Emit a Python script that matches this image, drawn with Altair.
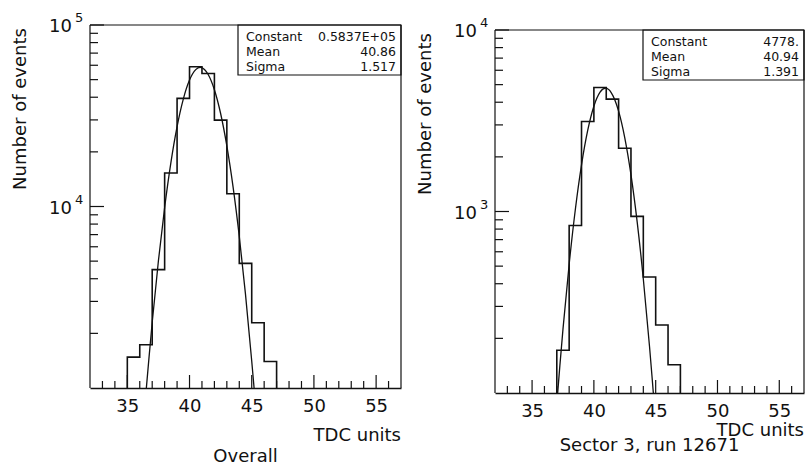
import altair as alt
import pandas as pd

# ---------------- data ----------------
X_DOMAIN = [32, 57]
X_LABELS = [35, 40, 45, 50, 55]
X_MINOR = [33, 34, 36, 37, 38, 39, 41, 42, 43, 44, 46, 47, 48, 49, 51, 52, 53, 54, 56]

STAT_NAMES = ["Constant", "Mean", "Sigma"]

# Left panel: "Overall"
L_EDGES = [35, 36, 37, 38, 39, 40, 41, 42, 43, 44, 45, 46, 47]
L_COUNTS = [1480, 1730, 4490, 15300, 39400, 58900, 54100, 29900, 11750, 4860, 2290, 1400]
L_Y_DOMAIN = [1000, 100000]
L_FIT_X = [36.53, 36.75, 37.0, 37.5, 38.0, 38.5, 39.0, 39.5, 40.0, 40.5, 40.86,
           41.2, 41.5, 42.0, 42.5, 43.0, 43.5, 44.0, 44.5, 45.0, 45.19]
L_FIT_Y = [1000, 1488, 2296, 5022, 9876, 17405, 27527, 39055, 49707, 56748, 58370,
           56922, 53397, 44011, 32541, 21580, 12841, 6853, 3282, 1408, 1000]
L_MAJOR = [10000, 100000]
L_EXPS = ["4", "5"]
L_MINOR = [2000, 3000, 4000, 5000, 6000, 7000, 8000, 9000,
           20000, 30000, 40000, 50000, 60000, 70000, 80000, 90000]
L_STATS = ["0.5837E+05", "40.86", "1.517"]
L_CAPTION = "Overall"

# Right panel: "Sector 3, run 12671"
R_EDGES = [37, 38, 39, 40, 41, 42, 43, 44, 45, 46, 47]
R_COUNTS = [172, 838, 3130, 4820, 4160, 2230, 940, 436, 237, 143]
R_Y_DOMAIN = [100, 10000]
R_FIT_X = [37.07, 37.25, 37.5, 38.0, 38.5, 39.0, 39.5, 40.0, 40.5, 40.94,
           41.4, 42.0, 42.5, 43.0, 43.5, 44.0, 44.5, 44.7, 44.81]
R_FIT_Y = [100, 142, 225, 512, 1026, 1807, 2796, 3803, 4545, 4778,
           4524, 3574, 2548, 1596, 879, 425, 181, 124, 100]
R_MAJOR = [1000, 10000]
R_EXPS = ["3", "4"]
R_MINOR = [200, 300, 400, 500, 600, 700, 800, 900,
           2000, 3000, 4000, 5000, 6000, 7000, 8000, 9000]
R_STATS = ["4778.", "40.94", "1.391"]
R_CAPTION = "Sector 3, run 12671"

Y_TITLE = "Number of events"
X_TITLE = "TDC units"

FONT = "DejaVu Sans"
INK = "#111111"


def one_row():
    return alt.Data(values=[{"k": 0}])


def panel(edges, counts, fit_x, fit_y, ydom, major, exps, minor, stats, caption,
          W, H, top, xtitle_dy, cap_dy, marker=False):
    xs = alt.Scale(domain=X_DOMAIN, nice=False, zero=False)
    ys = alt.Scale(type="log", domain=ydom, range=[H, top], nice=False)
    x_axis = alt.Axis(values=X_LABELS, ticks=False, grid=False, labelFont=FONT,
                      labelFontSize=18, labelColor=INK, labelPadding=9,
                      domainColor=INK, domainWidth=1.6, title=None,
                      labelFlush=False, labelOverlap=False)

    def X(field):
        return alt.X(field, scale=xs, axis=x_axis)

    def Y(field):
        return alt.Y(field, scale=ys, axis=None)

    hist_df = pd.DataFrame({
        "x": [edges[0]] + edges[:-1] + [edges[-1]],
        "y": [ydom[0]] + counts + [ydom[0]],
    })
    hist_df["i"] = range(len(hist_df))
    hist = alt.Chart(hist_df).mark_line(
        interpolate="step-after", color=INK, strokeWidth=1.6, clip=True
    ).encode(x=X("x:Q"), y=Y("y:Q"), order="i:Q")

    fit = alt.Chart(pd.DataFrame({"x": fit_x, "y": fit_y})).mark_line(
        interpolate="monotone", color=INK, strokeWidth=1.3, clip=True
    ).encode(x=X("x:Q"), y=Y("y:Q"), order="x:Q")

    xt_major = alt.Chart(pd.DataFrame({"x": X_LABELS})).mark_rule(
        color=INK, strokeWidth=1.2).encode(x=X("x:Q"), y=alt.value(H), y2=alt.value(H - 13))
    xt_minor = alt.Chart(pd.DataFrame({"x": X_MINOR})).mark_rule(
        color=INK, strokeWidth=1.2).encode(x=X("x:Q"), y=alt.value(H), y2=alt.value(H - 7))

    yt_major = alt.Chart(pd.DataFrame({"y": major})).mark_rule(
        color=INK, strokeWidth=1.2).encode(y=Y("y:Q"), x=alt.value(0), x2=alt.value(14))
    yt_minor = alt.Chart(pd.DataFrame({"y": minor})).mark_rule(
        color=INK, strokeWidth=1.2).encode(y=Y("y:Q"), x=alt.value(0), x2=alt.value(8))

    ylab_df = pd.DataFrame({"y": major, "e": exps})
    ylab = alt.Chart(ylab_df).mark_text(
        align="right", baseline="middle", font=FONT, fontSize=18, color=INK, dy=2
    ).encode(y=Y("y:Q"), x=alt.value(-18), text=alt.value("10"))
    yexp = alt.Chart(ylab_df).mark_text(
        align="left", baseline="middle", font=FONT, fontSize=13, color=INK, dy=-7
    ).encode(y=Y("y:Q"), x=alt.value(-15), text="e:N")

    def rule(**enc):
        return alt.Chart(one_row()).mark_rule(color=INK, strokeWidth=1.2).encode(**enc)

    left_line = rule(x=alt.value(0), y=alt.value(top), y2=alt.value(H))
    top_line = rule(y=alt.value(top), x=alt.value(0), x2=alt.value(W))
    right_line = rule(x=alt.value(W), y=alt.value(top), y2=alt.value(H))

    box_x = 148
    box = alt.Chart(one_row()).mark_rect(
        fillOpacity=0, stroke=INK, strokeWidth=1.2
    ).encode(x=alt.value(box_x), x2=alt.value(W), y=alt.value(top), y2=alt.value(top + 50))

    texts = []
    for i, (name, val) in enumerate(zip(STAT_NAMES, stats)):
        yy = top + 11.5 + 15 * i
        texts.append(alt.Chart(one_row()).mark_text(
            align="left", baseline="middle", font=FONT, fontSize=12.5, color=INK
        ).encode(x=alt.value(box_x + 8), y=alt.value(yy), text=alt.value(name)))
        texts.append(alt.Chart(one_row()).mark_text(
            align="right", baseline="middle", font=FONT, fontSize=12.5, color=INK
        ).encode(x=alt.value(W - 5), y=alt.value(yy), text=alt.value(val)))

    ytitle = alt.Chart(one_row()).mark_text(
        align="center", baseline="middle", angle=270, font=FONT, fontSize=18, color=INK
    ).encode(x=alt.value(-69), y=alt.value(top + 84), text=alt.value(Y_TITLE))
    xtitle = alt.Chart(one_row()).mark_text(
        align="right", baseline="alphabetic", font=FONT, fontSize=18, color=INK
    ).encode(x=alt.value(W), y=alt.value(H + xtitle_dy), text=alt.value(X_TITLE))
    cap = alt.Chart(one_row()).mark_text(
        align="center", baseline="alphabetic", font=FONT, fontSize=18, color=INK
    ).encode(x=alt.value(W / 2), y=alt.value(H + cap_dy), text=alt.value(caption))

    layers = [hist, fit, xt_major, xt_minor, yt_major, yt_minor, ylab, yexp,
              left_line, top_line, right_line, box] + texts + [ytitle, xtitle, cap]
    if marker:
        layers.append(alt.Chart(one_row()).mark_rule(strokeOpacity=0, color="white").encode(
            x=alt.value(-89.5), x2=alt.value(-89.5), y=alt.value(-24), y2=alt.value(-24)))
    return alt.layer(*layers).properties(width=W, height=H)


left = panel(L_EDGES, L_COUNTS, L_FIT_X, L_FIT_Y, L_Y_DOMAIN, L_MAJOR, L_EXPS, L_MINOR,
             L_STATS, L_CAPTION, W=311, H=363, top=0, xtitle_dy=53, cap_dy=74, marker=True)
right = panel(R_EDGES, R_COUNTS, R_FIT_X, R_FIT_Y, R_Y_DOMAIN, R_MAJOR, R_EXPS, R_MINOR,
              R_STATS, R_CAPTION, W=309, H=368, top=5, xtitle_dy=43, cap_dy=58)

chart = alt.hconcat(left, right, spacing=94, bounds="flush", padding=0).configure_view(
    stroke="transparent")

chart.save("out.html", embed_options={"renderer": "svg", "actions": False})
